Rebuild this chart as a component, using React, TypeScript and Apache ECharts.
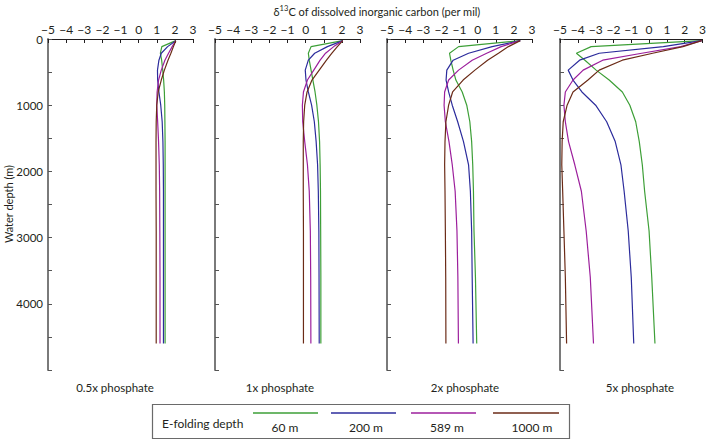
import React, { useEffect, useRef } from 'react';
import * as echarts from 'echarts';

// Depth levels (m) at which the profiles were read
const depths = [25, 115, 215, 320, 470, 620, 800, 1000, 1250, 1550, 1900, 2300, 2900, 3600, 4600];

const panelTitles = ['0.5x phosphate', '1x phosphate', '2x phosphate', '5x phosphate'];
const legendLabels = ['60 m', '200 m', '589 m', '1000 m'];
const seriesColors = ['#3d9f37', '#2c2c9c', '#9c1f9c', '#6b2b17'];

// 0.5x phosphate
const p05_60 = [2.05, 1.28, 1.2, 1.27, 1.33, 1.38, 1.42, 1.44, 1.45, 1.46, 1.46, 1.46, 1.46, 1.46, 1.46];
const p05_200 = [2.05, 1.6, 1.25, 1.12, 1.04, 1.05, 1.12, 1.22, 1.3, 1.34, 1.36, 1.37, 1.37, 1.37, 1.37];
const p05_589 = [2.05, 1.85, 1.65, 1.45, 1.25, 1.1, 1.02, 1.0, 1.05, 1.1, 1.14, 1.16, 1.17, 1.18, 1.18];
const p05_1000 = [2.05, 1.92, 1.78, 1.62, 1.42, 1.25, 1.08, 1.0, 0.97, 0.96, 0.96, 0.96, 0.97, 0.97, 0.97];

// 1x phosphate
const p1_60 = [2.05, 0.3, 0.15, 0.2, 0.3, 0.4, 0.52, 0.62, 0.71, 0.77, 0.8, 0.82, 0.83, 0.84, 0.84];
const p1_200 = [2.05, 1.2, 0.5, 0.15, -0.02, 0.02, 0.15, 0.33, 0.48, 0.58, 0.66, 0.7, 0.73, 0.74, 0.75];
const p1_589 = [2.05, 1.55, 1.1, 0.8, 0.45, 0.1, -0.12, -0.18, -0.16, -0.05, 0.1, 0.2, 0.26, 0.28, 0.29];
const p1_1000 = [2.05, 1.75, 1.45, 1.15, 0.75, 0.35, 0.08, -0.05, -0.11, -0.13, -0.13, -0.13, -0.12, -0.12, -0.12];

// 2x phosphate
const p2_60 = [2.35, -1.05, -1.55, -1.48, -1.35, -1.2, -0.85, -0.6, -0.43, -0.33, -0.27, -0.23, -0.2, -0.12, -0.05];
const p2_200 = [2.35, 0.8, -0.5, -1.35, -1.7, -1.74, -1.6, -1.4, -1.1, -0.78, -0.5, -0.4, -0.33, -0.3, -0.25];
const p2_589 = [2.35, 1.3, 0.5, -0.3, -1.05, -1.6, -1.82, -1.85, -1.78, -1.58, -1.4, -1.24, -1.14, -1.09, -1.06];
const p2_1000 = [2.35, 1.7, 1.15, 0.55, -0.15, -0.8, -1.38, -1.6, -1.75, -1.8, -1.82, -1.8, -1.78, -1.76, -1.75];

// 5x phosphate
const p5_60 = [2.95, -3.25, -4.08, -3.6, -2.97, -2.24, -1.5, -1.08, -0.75, -0.55, -0.38, -0.25, 0.0, 0.15, 0.33];
const p5_200 = [2.95, 0.8, -2.8, -3.9, -4.54, -4.27, -3.77, -3.0, -2.38, -1.9, -1.58, -1.4, -1.17, -1.0, -0.86];
const p5_589 = [2.95, 1.78, -0.41, -2.6, -3.7, -4.27, -4.7, -4.78, -4.7, -4.52, -4.17, -3.8, -3.53, -3.3, -3.12];
const p5_1000 = [2.95, 1.9, 0.2, -1.5, -2.8, -3.43, -4.27, -4.6, -4.82, -4.88, -4.9, -4.85, -4.78, -4.7, -4.63];

const panels = [
  [p05_60, p05_200, p05_589, p05_1000],
  [p1_60, p1_200, p1_589, p1_1000],
  [p2_60, p2_200, p2_589, p2_1000],
  [p5_60, p5_200, p5_589, p5_1000],
];

const panelLefts = [48, 215, 387, 560];
const panelTitleX = [115, 280, 465, 640];
const FONT = 'Lato';
const TEXT = '#231f20';

function fmtX(v: number) {
  return v < 0 ? '\u2212' + Math.abs(v) : String(v);
}

export default function App() {
  const ref = useRef<HTMLDivElement>(null);
  useEffect(() => {
    if (!ref.current) return;
    const chart = echarts.init(ref.current, undefined, { renderer: 'svg' });

    const grid = panelLefts.map((l) => ({ left: l, top: 39, width: 145, height: 331 }));
    const xAxis = panelLefts.map((_, i) => ({
      type: 'value',
      gridIndex: i,
      position: 'top',
      min: -5,
      max: 3,
      interval: 1,
      axisLine: { show: true, onZero: false, lineStyle: { color: '#231f20', width: 1 } },
      axisTick: { show: true, inside: true, length: 4, lineStyle: { color: '#231f20' } },
      axisLabel: { formatter: fmtX, color: TEXT, fontFamily: FONT, fontSize: 12, margin: 4 },
      splitLine: { show: false },
    }));
    const yAxis = panelLefts.map((_, i) => ({
      type: 'value',
      gridIndex: i,
      position: 'left',
      inverse: true,
      min: 0,
      max: 5000,
      interval: 500,
      axisLine: { show: true, onZero: false, lineStyle: { color: '#7a7a7a', width: 2 } },
      axisTick: { show: true, inside: true, length: 4, lineStyle: { color: '#555' } },
      axisLabel: {
        show: i === 0,
        color: TEXT,
        fontFamily: FONT,
        fontSize: 11.5,
        margin: 5,
        formatter: (v: number) => (v % 1000 === 0 && v < 5000 ? String(v) : ''),
      },
      splitLine: { show: false },
    }));

    const series: any[] = [];
    panels.forEach((p, pi) => {
      p.forEach((vals, si) => {
        series.push({
          type: 'line',
          xAxisIndex: pi,
          yAxisIndex: pi,
          showSymbol: false,
          symbol: 'none',
          lineStyle: { color: seriesColors[si], width: 1.2 },
          data: depths.map((d, k) => [vals[k], d]),
          z: 3,
        });
      });
    });

    const legendLineX = [
      [253, 318],
      [331, 396],
      [411, 476],
      [493, 559],
    ];
    const legendLabelX = [285, 366, 447, 532];

    const graphic: any[] = [
      {
        type: 'text',
        x: 377,
        y: 11,
        style: {
          text: '{a|\u03B4}{b|13}{a|C of dissolved inorganic carbon (per mil)}',
          align: 'center',
          verticalAlign: 'middle',
          rich: {
            a: { fontFamily: FONT, fontSize: 11, fill: TEXT, lineHeight: 14 },
            b: { fontFamily: FONT, fontSize: 7.5, fill: TEXT, verticalAlign: 'top', lineHeight: 14, padding: [0, 0, 4, 0] },
          },
        },
      },
      {
        type: 'text',
        x: 8,
        y: 204,
        rotation: Math.PI / 2,
        style: {
          text: 'Water depth (m)',
          align: 'center',
          verticalAlign: 'middle',
          fontFamily: FONT,
          fontSize: 11,
          fill: TEXT,
        },
      },
      ...panelTitles.map((t, i) => ({
        type: 'text',
        x: panelTitleX[i],
        y: 387,
        style: { text: t, align: 'center', verticalAlign: 'middle', fontFamily: FONT, fontSize: 11.5, fill: TEXT },
      })),
      {
        type: 'rect',
        shape: { x: 152.5, y: 404.5, width: 417, height: 34 },
        style: { fill: '#fff', stroke: '#6a6a6a', lineWidth: 1.2 },
      },
      {
        type: 'text',
        x: 162,
        y: 423,
        style: { text: 'E-folding depth', align: 'left', verticalAlign: 'middle', fontFamily: FONT, fontSize: 12, fill: TEXT },
      },
      ...legendLineX.map((lx, i) => ({
        type: 'line',
        shape: { x1: lx[0], y1: 413, x2: lx[1], y2: 413 },
        style: { stroke: seriesColors[i], lineWidth: 1.3 },
      })),
      ...legendLabels.map((t, i) => ({
        type: 'text',
        x: legendLabelX[i],
        y: 427,
        style: { text: t, align: 'center', verticalAlign: 'middle', fontFamily: FONT, fontSize: 12, fill: TEXT },
      })),
    ];

    chart.setOption({
      animation: false,
      backgroundColor: '#ffffff',
      grid,
      xAxis,
      yAxis,
      series,
      graphic,
    });
    return () => chart.dispose();
  }, []);

  return (
    <div
      ref={ref}
      style={{ position: 'fixed', left: 0, top: 0, width: 709, height: 440, background: '#fff' }}
    />
  );
}
